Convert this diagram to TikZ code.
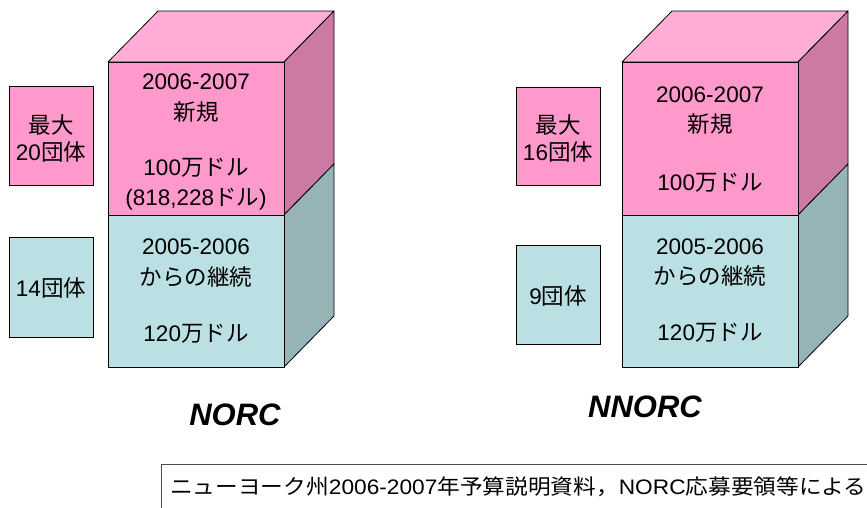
\documentclass[tikz,border=0pt]{standalone}
\usepackage{fontspec}
\setmainfont{Liberation Sans}
\newfontfamily\jp{Noto Sans CJK JP}
\definecolor{pinkfront}{RGB}{255,153,204}
\definecolor{pinktop}{RGB}{255,173,214}
\definecolor{pinkside}{RGB}{204,122,163}
\definecolor{cyanfront}{RGB}{187,224,227}
\definecolor{cyanside}{RGB}{150,179,182}
\tikzset{
  face/.style={draw=black, line width=0.8pt, line join=round},
  lbl/.style={inner sep=0pt, font=\fontsize{22.5}{26}\selectfont, anchor=center},
  title/.style={inner sep=0pt, font=\fontsize{31}{34}\selectfont\bfseries\itshape},
  countbox/.style={draw=black, line width=0.8pt, rectangle, inner sep=0pt}
}
\begin{document}
\begin{tikzpicture}[x=1pt,y=-1pt]
\useasboundingbox (0,0) rectangle (867,507);
\fill[white] (0,0) rectangle (867,507);

% ---------- left cube (NORC) ----------
\draw[face, fill=pinktop] (108,62) -- (158,11) -- (334,11) -- (284,62) -- cycle;
\draw[face, fill=pinkside] (284,62) -- (334,11) -- (334,164) -- (284,215) -- cycle;
\draw[face, fill=cyanside] (284,215) -- (334,164) -- (334,316) -- (284,367) -- cycle;
\node[countbox, fill=pinkfront, minimum width=176pt, minimum height=153pt, anchor=north west] (Lnew) at (108,62) {};
\node[countbox, fill=cyanfront, minimum width=176pt, minimum height=152pt, anchor=north west] (Lcont) at (108,215) {};

\node[lbl] (Ln1) at (196,82) {2006-2007};
\node[lbl] (Ln2) at (196,112) {\jp 新規};
\node[lbl] (Ln3) at (196,168) {100{\jp 万ドル}};
\node[lbl] (Ln4) at (196,199) {(818,228{\jp ドル})};
\node[lbl] (Lc1) at (196,247) {2005-2006};
\node[lbl] (Lc2) at (196,277) {\jp からの継続};
\node[lbl] (Lc3) at (196,334) {120{\jp 万ドル}};

\node[countbox, fill=pinkfront, minimum width=84pt, minimum height=99pt, anchor=north west] (Lmax) at (9,86) {};
\node[lbl] at (51,125) {\jp 最大};
\node[lbl] at (51,152) {20{\jp 団体}};
\node[countbox, fill=cyanfront, minimum width=84pt, minimum height=100pt, anchor=north west] (Lcnt) at (9,237) {};
\node[lbl] at (51,288) {14{\jp 団体}};

\node[title] (Ltitle) at (235,415) {NORC};

% ---------- right cube (NNORC) ----------
\draw[face, fill=pinktop] (622,62) -- (672,11) -- (848,11) -- (798,62) -- cycle;
\draw[face, fill=pinkside] (798,62) -- (848,11) -- (848,164) -- (798,215) -- cycle;
\draw[face, fill=cyanside] (798,215) -- (848,164) -- (848,316) -- (798,367) -- cycle;
\node[countbox, fill=pinkfront, minimum width=176pt, minimum height=153pt, anchor=north west] (Rnew) at (622,62) {};
\node[countbox, fill=cyanfront, minimum width=176pt, minimum height=152pt, anchor=north west] (Rcont) at (622,215) {};

\node[lbl] (Rn1) at (710,95) {2006-2007};
\node[lbl] (Rn2) at (710,124) {\jp 新規};
\node[lbl] (Rn3) at (710,183) {100{\jp 万ドル}};
\node[lbl] (Rc1) at (710,247) {2005-2006};
\node[lbl] (Rc2) at (710,276) {\jp からの継続};
\node[lbl] (Rc3) at (710,333) {120{\jp 万ドル}};

\node[countbox, fill=pinkfront, minimum width=84pt, minimum height=98pt, anchor=north west] (Rmax) at (516,87) {};
\node[lbl] at (558,125) {\jp 最大};
\node[lbl] at (558,152) {16{\jp 団体}};
\node[countbox, fill=cyanfront, minimum width=84pt, minimum height=99pt, anchor=north west] (Rcnt) at (516,245) {};
\node[lbl] at (558,296) {9{\jp 団体}};

\node[title] (Rtitle) at (645,407) {NNORC};

% ---------- source note ----------
\draw[line width=0.8pt, draw=black!70] (161,520) -- (161,464) -- (880,464);
\node[inner sep=0pt, anchor=west, font=\fontsize{21}{24}\selectfont] (src) at (170,487)
  {\scalebox{1.08}[1.0]{{\jp ニューヨーク州}2006-2007{\jp 年予算説明資料，}NORC{\jp 応募要領等による}}};
\end{tikzpicture}
\end{document}
